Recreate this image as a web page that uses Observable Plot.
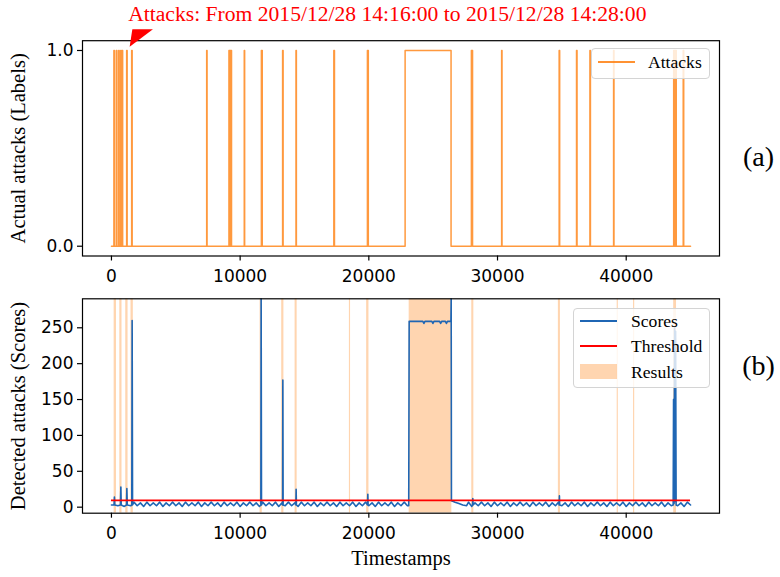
<!DOCTYPE html>
<html><head><meta charset="utf-8">
<script src="https://cdn.jsdelivr.net/npm/d3@7"></script>
<script src="https://cdn.jsdelivr.net/npm/@observablehq/plot@0.6"></script>
<style>
body{margin:0;background:#fff;}
#wrap{position:relative;width:780px;height:577px;overflow:hidden;background:#fff;}
#wrap svg{position:absolute;left:0;top:0;}
.leg{position:absolute;background:rgba(255,255,255,0.8);border:1px solid #d4d4d4;border-radius:4px;box-sizing:border-box;}
.lt{position:absolute;font-family:"Liberation Serif",serif;font-size:17.6px;color:#000;line-height:1;white-space:nowrap;transform:translateY(-50%);}
.ls{position:absolute;}
.lp{position:absolute;}
</style></head>
<body><div id="wrap"></div>
<script>
// ---------- data ----------
const xTicks = [0, 10000, 20000, 30000, 40000];
const yTicksTop = [0, 1];
const yTicksBottom = [0, 50, 100, 150, 200, 250];
const tMax = 45000;

// actual attacks (labels) : intervals where label = 1
const attackStart = [190, 380, 560, 720, 840, 1180, 1570, 7400, 9130, 9210, 9290, 10320, 11650, 13300, 14340, 17280, 19890, 22820, 27970, 30320, 34790, 36140, 37180, 39020, 43690, 43770, 43850, 44430];
const attackEnd   = [230, 420, 600, 760, 870, 1220, 1610, 7430, 9170, 9250, 9330, 10350, 11720, 13340, 14370, 17330, 19960, 26390, 28060, 30350, 34830, 36180, 37220, 39050, 43730, 43810, 43890, 44470];

// detection results (shaded spans)
const resultStart = [210, 650, 1110, 1520, 11550, 13230, 14270, 18490, 19830, 23135, 28000, 34730, 39300, 40570, 43690];
const resultEnd   = [390, 820, 1290, 1700, 11720, 13400, 14430, 18580, 20010, 26450, 28160, 34890, 39390, 40660, 43910];

// anomaly scores: baseline samples every 250 timestamps
const baseStep = 250;
const baseScores = [
 3,6,2,7,1,6,2,7,2,6, 1,7,2,6,2,7,1,6,2,7, 2,6,1,7,2,6,2,7,1,6,
 2,7,2,6,1,7,2,6,2,7, 1,6,2,7,2,6,1,7,2,6, 2,7,1,6,2,7,2,6,1,7,
 2,6,2,7,1,6,2,7,2,6, 1,7,2,6,2,7,1,6,2,7, 2,6,1,7,2,6,2,7,1,6,
 2,7,2,6,1,7,2,6,2,7, 1,6,2,7,2,6,1,7,2,6, 2,7,1,6,2,7,2,6,1,7,
 2,6,2,7,1,6,2,7,2,6, 1,7,2,6,2,7,1,6,2,7, 2,6,1,7,2,6,2,7,1,6,
 2,7,2,6,1,7,2,6,2,7, 1,6,2,7,2,6,1,7,2,6, 2,7,1,6,2,7,2,6,1,7, 3
];
// score peaks / attack plateau, [timestamp, score]
const scoreEvents = [
 [[200,3],[230,14],[260,3]],
 [[700,3],[730,28],[760,3]],
 [[1170,3],[1197,26],[1230,3]],
 [[1580,3],[1608,260],[1640,3]],
 [[11610,3],[11632,300],[11660,3]],
 [[13300,3],[13318,177],[13340,3]],
 [[14330,3],[14351,25],[14375,3]],
 [[19900,3],[19922,18],[19945,3]],
 [[23100,2],[23135,259],[24200,259],[24280,256],[24360,259],[24900,259],[24980,256],[25060,259],[25500,259],[25580,256],[25660,259],[25950,259],[26030,256],[26110,259],[26380,259],[26400,292],[26420,9],[26700,7],[27000,5],[27300,3],[27600,2]],
 [[28060,3],[28080,12],[28100,3]],
 [[34790,3],[34810,16],[34830,3]],
 [[43650,3],[43680,150],[43720,5],[43760,250],[43800,8],[43840,245],[43880,3]]
];
const threshold = 9.5;

const annotation = "Attacks: From 2015/12/28 14:16:00 to 2015/12/28 14:28:00";
const annotationAt = [1453, 1.017];
const yLabelTop = "Actual attacks (Labels)";
const yLabelBottom = "Detected attacks (Scores)";
const xLabel = "Timestamps";

// ---------- build tables ----------
const attackLine = [{t: 0, v: 0}];
attackStart.forEach((s, i) => {
  attackLine.push({t: s, v: 0}, {t: s, v: 1}, {t: attackEnd[i], v: 1}, {t: attackEnd[i], v: 0});
});
attackLine.push({t: tMax, v: 0});

const results = resultStart.map((s, i) => ({s, e: resultEnd[i]}));

const windows = scoreEvents.map(ev => [ev[0][0], ev[ev.length - 1][0]]);
let scores = baseScores.map((v, i) => ({t: i * baseStep, v}))
  .filter(d => !windows.some(([a, b]) => d.t >= a - 20 && d.t <= b + 20));
scoreEvents.forEach(ev => ev.forEach(([t, v]) => scores.push({t, v})));
scores.sort((a, b) => a.t - b.t);

const xDomain = [-2250, 47250];
const fmtX = d3.format("d");
const serif = "Liberation Serif";
const common = {width: 780, marginLeft: 82, marginRight: 61,
  style: {fontFamily: "DejaVu Sans", fontSize: "17px", background: "transparent", color: "#000", overflow: "visible"}};

const topChart = Plot.plot({
  ...common, height: 290, marginTop: 40.2, marginBottom: 34.5,
  x: {domain: xDomain}, y: {domain: [-0.05, 1.05]},
  marks: [
    Plot.line(attackLine, {x: "t", y: "v", stroke: "#ff7f0e", strokeWidth: 1.5, strokeOpacity: 0.8, clip: true}),
    Plot.frame({stroke: "#000", strokeWidth: 1.2}),
    Plot.axisX({ticks: xTicks, tickFormat: fmtX, tickSize: 5, tickPadding: 9, label: null, strokeWidth: 1.2}),
    Plot.axisY({ticks: yTicksTop, tickFormat: d => d.toFixed(1), tickSize: 5, tickPadding: 4, label: null, strokeWidth: 1.2}),
    Plot.text([yLabelTop], {frameAnchor: "left", textAnchor: "middle", lineAnchor: "middle", rotate: -90, dx: -64, fontFamily: serif, fontSize: 20.5}),
    Plot.text([annotation], {x: () => 1300, y: () => 1, dy: -36, textAnchor: "start", lineAnchor: "middle", fill: "red", fontFamily: serif, fontSize: 21.6}),
    Plot.text(["(a)"], {frameAnchor: "right", textAnchor: "middle", lineAnchor: "middle", dx: 39, dy: 9, fontFamily: serif, fontSize: 28})
  ]
});

// arrow head of the annotation
{
  const ax = topChart.scale("x").apply(annotationAt[0]);
  const ay = topChart.scale("y").apply(annotationAt[1]);
  d3.select(topChart).append("polygon")
    .attr("points", `${ax},${ay} ${ax + 2.7},${ay - 17.4} ${ax + 23.3},${ay - 17.4}`)
    .attr("fill", "red");
}

const bottomChart = Plot.plot({
  ...common, height: 577, marginTop: 298.3, marginBottom: 64.3,
  x: {domain: xDomain}, y: {domain: [-8.4, 290.4]},
  marks: [
    Plot.rect(results, {x1: "s", x2: "e", fill: "#ff7f0e", fillOpacity: 0.33, clip: true}),
    Plot.line(scores, {x: "t", y: "v", stroke: "#1f66b4", strokeWidth: 1.6, clip: true}),
    Plot.ruleY([threshold], {x1: 0, x2: tMax, stroke: "red", strokeWidth: 1.6}),
    Plot.frame({stroke: "#000", strokeWidth: 1.2}),
    Plot.axisX({ticks: xTicks, tickFormat: fmtX, tickSize: 5, tickPadding: 9, label: null, strokeWidth: 1.2}),
    Plot.axisY({ticks: yTicksBottom, tickSize: 5, tickPadding: 4, label: null, strokeWidth: 1.2}),
    Plot.text([yLabelBottom], {frameAnchor: "left", textAnchor: "middle", lineAnchor: "middle", rotate: -90, dx: -64, fontFamily: serif, fontSize: 20.5}),
    Plot.text([xLabel], {frameAnchor: "bottom", textAnchor: "middle", lineAnchor: "middle", dy: 45, fontFamily: serif, fontSize: 20.5}),
    Plot.text(["(b)"], {frameAnchor: "right", textAnchor: "middle", lineAnchor: "middle", dx: 39, dy: -39.5, fontFamily: serif, fontSize: 28})
  ]
});

const wrap = document.getElementById("wrap");
wrap.appendChild(bottomChart);
wrap.appendChild(topChart);

// legends
function legend(box, items) {
  const b = document.createElement("div");
  b.className = "leg";
  Object.assign(b.style, {left: box[0] + "px", top: box[1] + "px", width: box[2] + "px", height: box[3] + "px"});
  wrap.appendChild(b);
  items.forEach(it => {
    const p = document.createElement("div");
    p.className = it.kind === "line" ? "ls" : "lp";
    const h = it.kind === "line" ? 2 : 15;
    Object.assign(p.style, {left: it.x + "px", top: (it.y - h / 2) + "px", width: "37px", height: h + "px", background: it.color});
    wrap.appendChild(p);
    const t = document.createElement("div");
    t.className = "lt";
    t.textContent = it.label;
    Object.assign(t.style, {left: it.tx + "px", top: (it.y + 1) + "px"});
    wrap.appendChild(t);
  });
}
legend([591, 48, 119, 31], [{kind: "line", x: 598, y: 62, color: "rgba(255,127,14,0.85)", label: "Attacks", tx: 648}]);
legend([573, 308, 137, 80], [
  {kind: "line", x: 580, y: 321, color: "#1f66b4", label: "Scores", tx: 631},
  {kind: "line", x: 580, y: 346, color: "red", label: "Threshold", tx: 631},
  {kind: "patch", x: 580, y: 371.5, color: "rgba(255,127,14,0.33)", label: "Results", tx: 631}
]);
</script></body></html>
